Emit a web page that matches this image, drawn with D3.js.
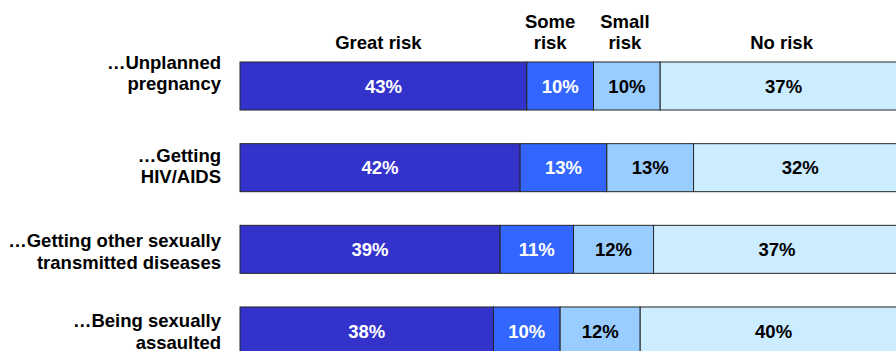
<!DOCTYPE html>
<html>
<head>
<meta charset="utf-8">
<script src="https://cdn.jsdelivr.net/npm/d3@7/dist/d3.min.js"></script>
<style>
  html, body { margin: 0; padding: 0; background: #fff; }
  svg { display: block; font-family: "Liberation Sans", Arial, sans-serif; font-weight: bold; }
</style>
</head>
<body>
<svg id="chart" width="896" height="351"></svg>
<script>
// Perceived risk of each outcome, percent of respondents
const categories = [
  ["…Unplanned", "pregnancy"],
  ["…Getting", "HIV/AIDS"],
  ["…Getting other sexually", "transmitted diseases"],
  ["…Being sexually", "assaulted"]
];
const seriesNames = [["Great risk"], ["Some", "risk"], ["Small", "risk"], ["No risk"]];
const greatRisk = [43, 42, 39, 38];
const someRisk  = [10, 13, 11, 10];
const smallRisk = [10, 13, 12, 12];
const noRisk    = [37, 32, 37, 40];

const fills = ["#3333CC", "#3366FF", "#99CCFF", "#CCECFF"];
const textFills = ["#ffffff", "#ffffff", "#000000", "#000000"];

const keys = ["great", "some", "small", "none"];
const rows = categories.map((c, i) => ({
  id: i, great: greatRisk[i], some: someRisk[i], small: smallRisk[i], none: noRisk[i]
}));
const stacked = d3.stack().keys(keys)(rows);

const svg = d3.select("#chart");
const x = d3.scaleLinear().domain([0, 100]).range([240, 907]);
const y = d3.scaleBand().domain(d3.range(categories.length)).range([62, 355]).paddingInner(0.412).paddingOuter(0);

const fontSize = 18.5;
const lineH = 21.5;

// Stacked segments
const layers = svg.append("g").selectAll("g").data(stacked).join("g")
  .attr("fill", (d, i) => fills[i]);

layers.selectAll("rect").data(d => d).join("rect")
  .attr("x", d => x(d[0]))
  .attr("y", (d, j) => y(j))
  .attr("width", d => x(d[1]) - x(d[0]))
  .attr("height", y.bandwidth())
  .attr("stroke", "#262626")
  .attr("stroke-width", 1);

// Value labels inside segments
stacked.forEach((layer, i) => {
  svg.append("g").selectAll("text").data(layer).join("text")
    .attr("x", d => (x(d[0]) + x(d[1])) / 2)
    .attr("y", (d, j) => y(j) + y.bandwidth() / 2)
    .attr("dy", "0.36em")
    .attr("text-anchor", "middle")
    .attr("font-size", fontSize)
    .attr("fill", textFills[i])
    .text(d => (d[1] - d[0]) + "%");
});

// Category labels, right aligned beside the bars
const labelShift = [-13, -2, 2, 0.5];
categories.forEach((lines, j) => {
  const cy = y(j) + y.bandwidth() / 2 + labelShift[j];
  const t = svg.append("text")
    .attr("text-anchor", "end")
    .attr("font-size", fontSize)
    .attr("fill", "#000");
  lines.forEach((ln, k) => {
    t.append("tspan")
      .attr("x", 221)
      .attr("y", cy + (k - (lines.length - 1) / 2) * lineH)
      .attr("dy", "0.36em")
      .text(ln);
  });
});

// Column headers above the first bar
const headerShift = [-5, -10, -2, -2];
const headerBase = 49;
stacked.forEach((layer, i) => {
  const d = layer[0];
  const cx = (x(d[0]) + x(d[1])) / 2 + headerShift[i];
  const lines = seriesNames[i];
  const t = svg.append("text")
    .attr("text-anchor", "middle")
    .attr("font-size", fontSize)
    .attr("fill", "#000");
  lines.forEach((ln, k) => {
    t.append("tspan")
      .attr("x", cx)
      .attr("y", headerBase - (lines.length - 1 - k) * lineH)
      .text(ln);
  });
});
</script>
</body>
</html>
